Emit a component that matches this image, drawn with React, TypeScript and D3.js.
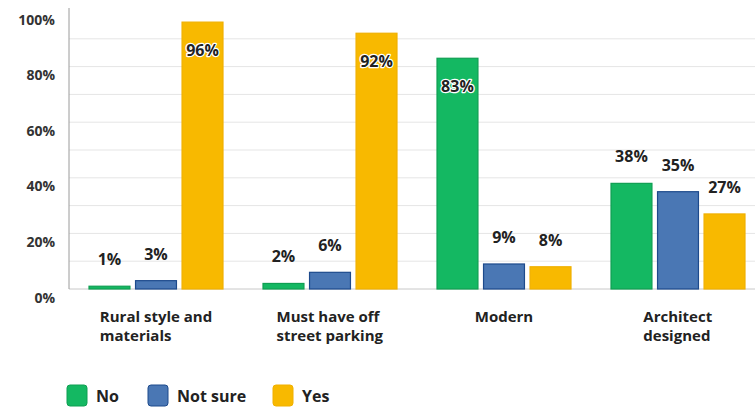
import React, { useEffect, useRef } from "react";
import * as d3 from "d3";

const categories = [["Rural style and", "materials"], ["Must have off", "street parking"], ["Modern"], ["Architect", "designed"]];
const seriesNames = ["No", "Not sure", "Yes"];
const noValues = [1, 2, 83, 38];
const notSureValues = [3, 6, 9, 35];
const yesValues = [96, 92, 8, 27];
const yTicks = [0, 20, 40, 60, 80, 100];
const gridTicks = [10, 20, 30, 40, 50, 60, 70, 80, 90];

const fills = ["#14b862", "#4a77b4", "#f8b900"];
const strokes = ["#0f9f52", "#1d4a8c", "#f0b000"];

const W = 755, H = 407;
const FONT = "'Open Sans', 'DejaVu Sans', sans-serif";

export default function App() {
  const ref = useRef<SVGSVGElement>(null);
  useEffect(() => {
    const svg = d3.select(ref.current);
    svg.selectAll("*").remove();
    const series = [noValues, notSureValues, yesValues];
    const y = d3.scaleLinear().domain([0, 100]).range([289, 11]);
    const x0 = d3.scaleBand<number>().domain(d3.range(4)).range([69, 765]).paddingInner(0.23).paddingOuter(0.115);
    const x1 = d3.scaleBand<number>().domain(d3.range(3)).range([0, x0.bandwidth()]).paddingInner(0.12).paddingOuter(0);

    // grid
    svg.append("g").selectAll("line").data(gridTicks).join("line")
      .attr("x1", 69).attr("x2", W).attr("y1", d => y(d)).attr("y2", d => y(d))
      .attr("stroke", "#e5e5e5").attr("stroke-width", 1);
    svg.append("line").attr("x1", 69).attr("x2", W).attr("y1", y(0)).attr("y2", y(0)).attr("stroke", "#c8c8c8");
    svg.append("line").attr("x1", 69).attr("x2", 69).attr("y1", 8).attr("y2", y(0)).attr("stroke", "#9a9a9a");

    // y tick labels
    svg.append("g").selectAll("text").data(yTicks).join("text")
      .attr("x", 55).attr("y", d => y(d) + 8).attr("text-anchor", "end").attr("dominant-baseline", "central")
      .attr("font-family", FONT).attr("font-size", 14).attr("font-weight", 700).attr("fill", "#333")
      .text(d => `${d}%`);

    // bars
    categories.forEach((_, ci) => {
      const g = svg.append("g").attr("transform", `translate(${x0(ci)},0)`);
      series.forEach((vals, si) => {
        const v = vals[ci];
        g.append("rect").attr("x", x1(si)!).attr("width", x1.bandwidth())
          .attr("y", y(v)).attr("height", y(0) - y(v))
          .attr("fill", fills[si]).attr("stroke", strokes[si]).attr("stroke-width", 1.2);
      });
      series.forEach((vals, si) => {
        const v = vals[ci];
        const inside = v > 75;
        const t = g.append("text").attr("x", x1(si)! + x1.bandwidth() / 2)
          .attr("y", inside ? y(v) + 28 : y(v) - 27)
          .attr("text-anchor", "middle").attr("dominant-baseline", "central")
          .attr("font-family", FONT).attr("font-size", 16).attr("font-weight", 700).attr("fill", "#222")
          .text(`${v}%`);
        if (inside) t.attr("stroke", "#ffffff").attr("stroke-width", 2.5).attr("paint-order", "stroke").attr("stroke-linejoin", "round");
      });
      // category label
      const cx = x0(ci)! + x0.bandwidth() / 2;
      const lbl = svg.append("text").attr("font-family", FONT).attr("font-size", 15).attr("font-weight", 700).attr("fill", "#222");
      categories[ci].forEach((line, li) => {
        lbl.append("tspan").attr("x", 0).attr("y", 316 + li * 19).attr("dominant-baseline", "central").text(line);
      });
      const bw = (lbl.node() as SVGTextElement).getBBox().width;
      lbl.attr("transform", `translate(${cx - bw / 2},0)`);
    });

    // legend
    const legX = [67, 148, 273];
    seriesNames.forEach((name, i) => {
      svg.append("rect").attr("x", legX[i]).attr("y", 385).attr("width", 20).attr("height", 21).attr("rx", 3)
        .attr("fill", fills[i]).attr("stroke", strokes[i]).attr("stroke-width", 1);
      svg.append("text").attr("x", legX[i] + 29).attr("y", 396).attr("dominant-baseline", "central")
        .attr("font-family", FONT).attr("font-size", 16).attr("font-weight", 700).attr("fill", "#222").text(name);
    });
  }, []);
  return (
    <svg ref={ref} width={W} height={H} style={{ position: "absolute", left: 0, top: 0, background: "#fff" }} />
  );
}
